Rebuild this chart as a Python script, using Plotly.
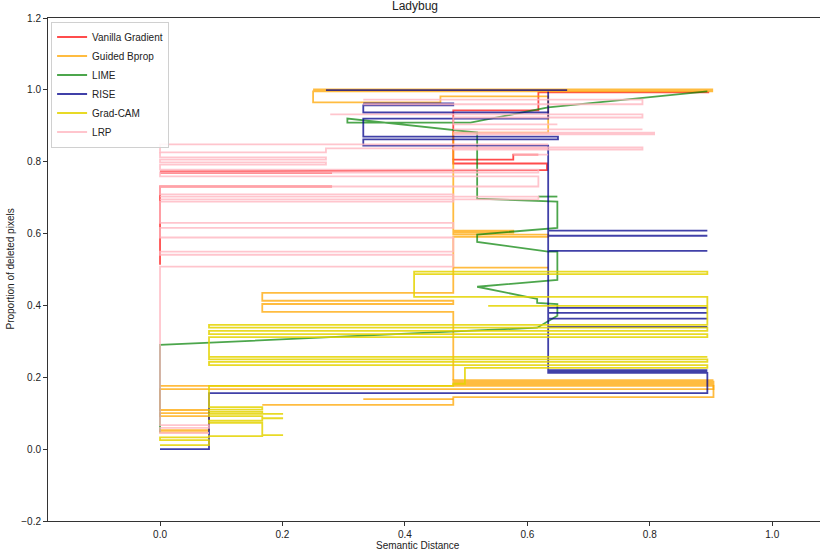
import plotly.graph_objects as go

N = None
series_names = ["Vanilla Gradient", "Guided Bprop", "LIME", "RISE", "Grad-CAM", "LRP"]
series_colors = ["rgba(255,0,0,0.7)", "rgba(255,165,0,0.75)", "rgba(0,128,0,0.7)",
                 "rgba(0,0,139,0.75)", "rgba(228,212,0,0.85)", "rgba(255,182,193,0.8)"]

vanilla_x = [0.281, 0, 0, N, 0, 0.281, N, 0, 0.632, 0.632, 0.479, 0.479, 0.577, 0.577, 0.618, N,
             0.479, 0.479, 0.618, 0.618, 0.897]
vanilla_y = [0.731, 0.731, 0.513, N, 0.769, 0.769, N, 0.773, 0.777, 0.795, 0.795, 0.806, 0.806, 0.820, 0.820, N,
             0.806, 0.943, 0.943, 0.993, 0.993]

guided_x = [0.08, 0, 0, 0.08, 0.08, 0, 0, 0.08, 0.08, 0, 0, 0.904, 0.904, 0, N,
            0.332, 0.479, N,
            0.167, 0.479, 0.479, 0.904, 0.904, 0.479, 0.479, 0.904, 0.904, 0.479, 0.479, 0.904, N,
            0.479, 0.479, 0.167, 0.167, 0.479, 0.479, 0.167, 0.167, 0.479, 0.479, 0.634, 0.634, 0.479,
            0.479, 0.577, 0.577, 0.479, 0.479, 0.634, 0.634, 0.458, 0.458, 0.25, 0.25, 0.902, 0.902, 0.25, N,
            0.479, 0.634]
guided_y = [0.047, 0.047, 0.053, 0.053, 0.092, 0.092, 0.100, 0.100, 0.109, 0.109, 0.167, 0.167, 0.176, 0.176, N,
            0.139, 0.139, N,
            0.123, 0.123, 0.145, 0.145, 0.181, 0.181, 0.184, 0.184, 0.188, 0.188, 0.192, 0.192, N,
            0.192, 0.382, 0.382, 0.404, 0.404, 0.413, 0.413, 0.435, 0.435, 0.591, 0.591, 0.597, 0.597,
            0.603, 0.603, 0.608, 0.608, 0.881, 0.881, 0.982, 0.982, 0.965, 0.965, 0.996, 0.996, 1.001, 1.001, N,
            0.505, 0.505]

lime_x = [0, 0, 0.616, 0.634, 0.649, 0.649, 0.616, 0.616, 0.518, 0.649, 0.649, 0.634, 0.518, 0.518,
          0.649, 0.649, 0.518, 0.518, 0.306, 0.306, 0.507, 0.634, 0.894, N, 0.618, 0.649]
lime_y = [0.047, 0.290, 0.338, 0.357, 0.371, 0.404, 0.407, 0.418, 0.452, 0.471, 0.550, 0.550, 0.577, 0.597,
          0.616, 0.689, 0.697, 0.881, 0.920, 0.909, 0.909, 0.951, 0.996, N, 0.703, 0.703]

rise_x = [0, 0.08, 0.08, 0.894, 0.894, 0.634, 0.634, 0.894, 0.634, 0.634, 0.894, 0.634,
          0.634, 0.894, 0.634, 0.634, 0.894, 0.634, 0.634, 0.894, 0.634, 0.634, 0.894, 0.634,
          0.634, 0.894, 0.634, 0.634, 0.894, 0.634, 0.634, 0.894, 0.634,
          0.634, 0.332, 0.332, 0.65, 0.65, 0.332, 0.332, 0.634, 0.634, 0.332, 0.332, 0.479, 0.479, 0.332, N,
          0.271, 0.665, N, 0.634, 0.634]
rise_y = [0, 0, 0.156, 0.156, 0.212, 0.212, 0.216, 0.216, 0.216, 0.220, 0.220, 0.220,
          0.340, 0.340, 0.340, 0.363, 0.363, 0.363, 0.379, 0.379, 0.379, 0.393, 0.393, 0.393,
          0.552, 0.552, 0.552, 0.594, 0.594, 0.594, 0.608, 0.608, 0.608,
          0.845, 0.845, 0.862, 0.862, 0.870, 0.870, 0.920, 0.920, 0.937, 0.937, 0.957, 0.957, 0.962, 0.962, N,
          0.999, 0.999, N, 0.937, 0.995]

gradcam_x = [0, 0.08, 0.08, 0, 0, 0.08, 0.08, 0.167, 0.167, 0.201,
             0.167, 0.167, 0.08, 0.08, 0.167, 0.167, 0.201, 0.167, 0.167, 0.08,
             0.08, 0.167, 0.201, 0.167, 0.167, 0.08, 0.08, 0.167, 0.167, 0.08,
             0.08, 0.479, 0.479, 0.498, 0.498, 0.894, 0.894, 0.08, 0.08, 0.894,
             0.894, 0.08, 0.08, 0.894, 0.08, 0.08, 0.894, 0.894, 0.08, 0.08,
             0.894, 0.894, 0.08, 0.08, 0.894, 0.894, 0.415, 0.415, 0.894, 0.894,
             0.415, N, 0.536, 0.894]
gradcam_y = [0.011, 0.011, 0.025, 0.025, 0.033, 0.033, 0.036, 0.036, 0.039, 0.039,
             0.039, 0.073, 0.073, 0.079, 0.079, 0.086, 0.086, 0.086, 0.092, 0.092,
             0.098, 0.098, 0.098, 0.098, 0.104, 0.104, 0.110, 0.110, 0.117, 0.117,
             0.176, 0.176, 0.182, 0.182, 0.226, 0.226, 0.234, 0.234, 0.243, 0.243,
             0.250, 0.250, 0.257, 0.257, 0.257, 0.312, 0.312, 0.320, 0.320, 0.329,
             0.329, 0.338, 0.338, 0.346, 0.346, 0.424, 0.424, 0.494, 0.494, 0.487,
             0.487, N, 0.399, 0.399]

lrp_x = [0.634, 0, 0, 0.271, 0.271, 0.634, N,
         0, 0, 0.271, 0.271, 0, 0, 0.271, 0.271, 0, 0, 0.618, 0.618, 0, 0, 0.618, 0.618, 0, 0, 0.479,
         0.479, 0, 0, 0.479, 0.479, 0, 0, 0.479, 0.479, 0, 0, 0.479, 0.479, 0, 0, 0.08, 0.08, 0, 0, 0.08, N,
         0, 0.618, 0.618, 0, N,
         0.332, 0.788, 0.788, 0.332, N,
         0.278, 0.788, 0.788, 0.479, 0.479, 0.649, N,
         0.479, 0.788, N, 0.479, 0.807, 0.807, 0.479, N,
         0.479, 0.788, 0.788, 0.479, N,
         0.577, 0.634]
lrp_y = [0.848, 0.848, 0.826, 0.826, 0.837, 0.837, N,
         0.826, 0.812, 0.812, 0.806, 0.806, 0.798, 0.798, 0.792, 0.792, 0.778, 0.778, 0.770, 0.770, 0.759, 0.759,
         0.731, 0.731, 0.709, 0.709, 0.689, 0.689, 0.630, 0.630, 0.616, 0.616, 0.589, 0.589, 0.550, 0.550, 0.541,
         0.541, 0.508, 0.508, 0.067, 0.067, 0.059, 0.059, 0.045, 0.045, N,
         0.703, 0.703, 0.695, 0.695, N,
         0.973, 0.973, 0.960, 0.960, N,
         0.932, 0.932, 0.923, 0.923, 0.904, 0.904, N,
         0.890, 0.890, N, 0.881, 0.881, 0.876, 0.876, N,
         0.840, 0.840, 0.834, 0.834, N,
         0.820, 0.820]

series_x = [vanilla_x, guided_x, lime_x, rise_x, gradcam_x, lrp_x]
series_y = [vanilla_y, guided_y, lime_y, rise_y, gradcam_y, lrp_y]

x_ticks = [0.0, 0.2, 0.4, 0.6, 0.8, 1.0]
x_tick_labels = ["0.0", "0.2", "0.4", "0.6", "0.8", "1.0"]
y_ticks = [-0.2, 0.0, 0.2, 0.4, 0.6, 0.8, 1.0, 1.2]
y_tick_labels = ["\u22120.2", "0.0", "0.2", "0.4", "0.6", "0.8", "1.0", "1.2"]

FONT = "Liberation Sans, Arial, sans-serif"

fig = go.Figure()
for name, color, xs, ys in zip(series_names, series_colors, series_x, series_y):
    fig.add_trace(go.Scatter(x=xs, y=ys, mode="lines", name=name,
                             line=dict(color=color, width=1.8), connectgaps=False))

fig.update_layout(
    width=820, height=553,
    margin=dict(l=48, r=0, t=18, b=32),
    plot_bgcolor="white", paper_bgcolor="white",
    font=dict(family=FONT, size=10, color="#222"),
    showlegend=True,
    legend=dict(x=0.004, y=0.993, xanchor="left", yanchor="top",
                bgcolor="rgba(255,255,255,0.85)", bordercolor="#d0d0d0", borderwidth=1,
                font=dict(family=FONT, size=10, color="#222"), tracegroupgap=0),
    annotations=[
        dict(text="Ladybug", xref="paper", yref="paper", x=(415 - 48) / 772, y=1.0, yshift=3,
             showarrow=False, font=dict(family=FONT, size=12, color="#222"), xanchor="center", yanchor="bottom"),
        dict(text="Semantic Distance", xref="paper", yref="paper", x=(418 - 48) / 772, y=0, yshift=-17,
             showarrow=False, font=dict(family=FONT, size=10, color="#222"), xanchor="center", yanchor="top"),
        dict(text="Proportion of deleted pixels", xref="paper", yref="paper", x=0, xshift=-38, y=0.5,
             textangle=-90, showarrow=False, font=dict(family=FONT, size=10, color="#222"),
             xanchor="center", yanchor="middle"),
    ],
)
fig.update_xaxes(range=[-0.183, 1.078], showgrid=False, zeroline=False, showline=True, linecolor="#333",
                 linewidth=1, mirror=True, ticks="outside", ticklen=4, tickcolor="#333",
                 tickvals=x_ticks, ticktext=x_tick_labels)
fig.update_yaxes(range=[-0.2, 1.2], showgrid=False, zeroline=False, showline=True, linecolor="#333",
                 linewidth=1, ticks="outside", ticklen=4, tickcolor="#333",
                 tickvals=y_ticks, ticktext=y_tick_labels)

fig.write_html("out.html", config={"displayModeBar": False},
               post_script="document.body.style.margin='0';document.body.style.overflow='hidden';")
